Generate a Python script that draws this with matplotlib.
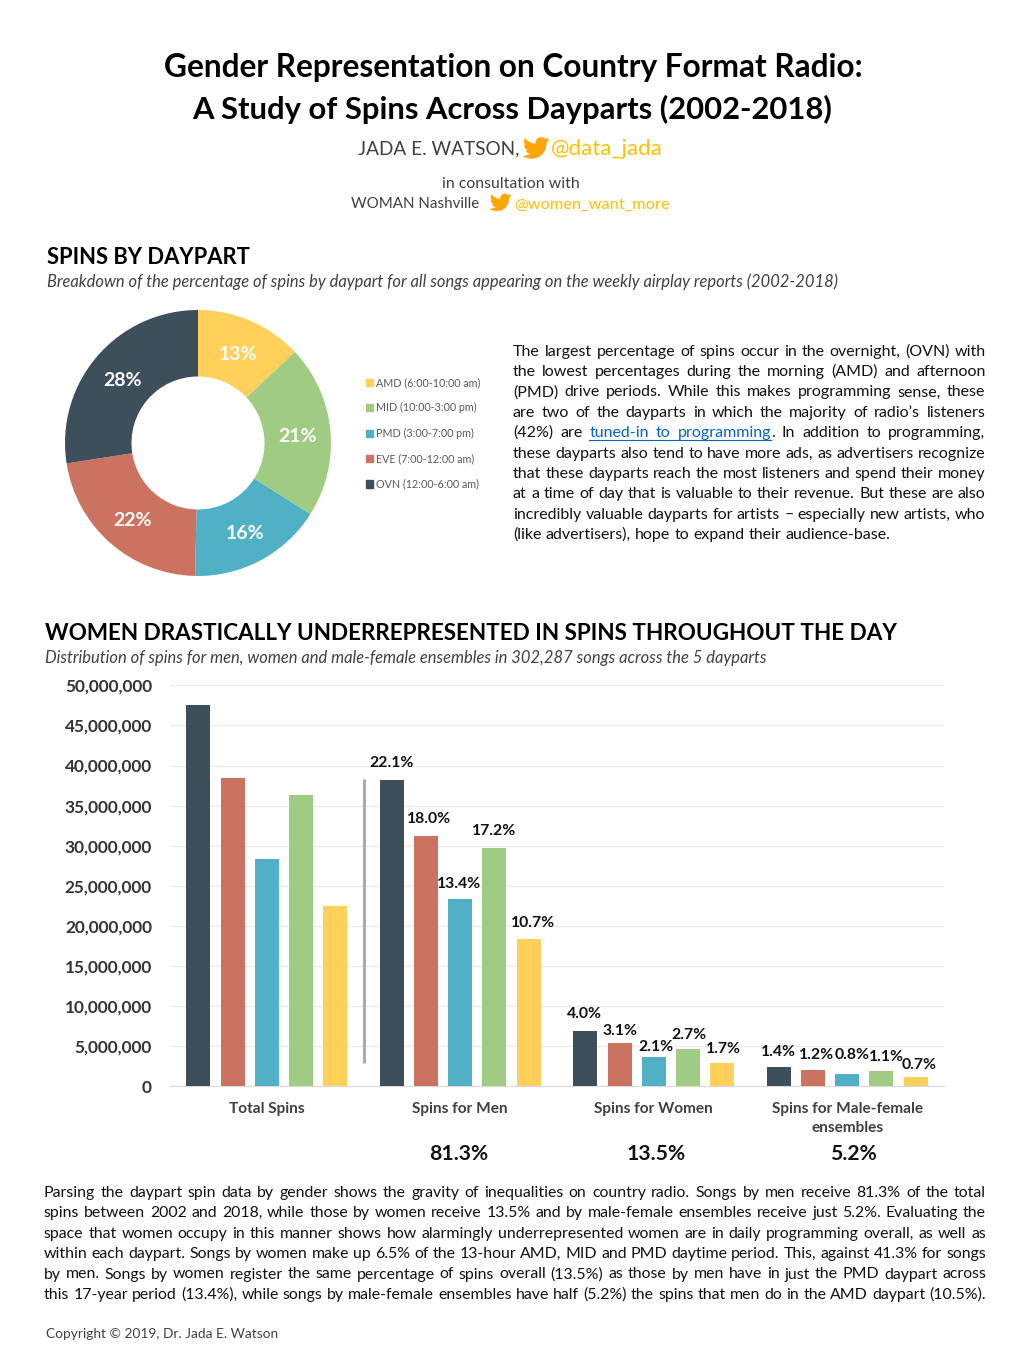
"""Country radio dayparts one-page sheet: donut, grouped bars and the surrounding copy."""

import matplotlib

matplotlib.use("Agg")
import matplotlib.pyplot as plt
from matplotlib.patches import PathPatch, Patch
from matplotlib.path import Path

plt.rcParams["font.family"] = ["Lato", "DejaVu Sans"]

# bar order, the donut runs the other way round
dayparts = ["OVN", "EVE", "PMD", "MID", "AMD"]
groups = ["Total Spins", "Spins for Men", "Spins for Women", "Spins for Male-female\nensembles"]
total_spins = [47.5e6, 38.4e6, 28.3e6, 36.3e6, 22.5e6]
men_spins = [38.2e6, 31.2e6, 23.3e6, 29.7e6, 18.4e6]
women_spins = [6.85e6, 5.35e6, 3.7e6, 4.7e6, 2.95e6]
ensemble_spins = [2.45e6, 2.0e6, 1.5e6, 1.95e6, 1.16e6]
men_labels = ["22.1%", "18.0%", "13.4%", "17.2%", "10.7%"]
women_labels = ["4.0%", "3.1%", "2.1%", "2.7%", "1.7%"]
ensemble_labels = ["1.4%", "1.2%", "0.8%", "1.1%", "0.7%"]
group_shares = ["81.3%", "13.5%", "5.2%"]
donut_labels = ["13%", "21%", "16%", "22%", "28%"]
legend_labels = [
    "AMD (6:00-10:00 am)",
    "MID (10:00-3:00 pm)",
    "PMD (3:00-7:00 pm)",
    "EVE (7:00-12:00 am)",
    "OVN (12:00-6:00 am)",
]
y_ticks = [0, 5e6, 10e6, 15e6, 20e6, 25e6, 30e6, 35e6, 40e6, 45e6, 50e6]

intro_lines = [
    "The largest percentage of spins occur in the overnight, (OVN) with",
    "the lowest percentages during the morning (AMD) and afternoon",
    "(PMD) drive periods. While this makes programming sense, these",
    "are two of the dayparts in which the majority of radio’s listeners",
    "(42%) are ^tuned-in ^to ^programming|. In addition to programming,",
    "these dayparts also tend to have more ads, as advertisers recognize",
    "that these dayparts reach the most listeners and spend their money",
    "at a time of day that is valuable to their revenue. But these are also",
    "incredibly valuable dayparts for artists – especially new artists, who",
    "(like advertisers), hope to expand their audience-base.",
]
closing_lines = [
    "Parsing the daypart spin data by gender shows the gravity of inequalities on country radio. Songs by men receive 81.3% of the total",
    "spins between 2002 and 2018, while those by women receive 13.5% and by male-female ensembles receive just 5.2%. Evaluating the",
    "space that women occupy in this manner shows how alarmingly underrepresented women are in daily programming overall, as well as",
    "within each daypart. Songs by women make up 6.5% of the 13-hour AMD, MID and PMD daytime period. This, against 41.3% for songs",
    "by men. Songs by women register the same percentage of spins overall (13.5%) as those by men have in just the PMD daypart across",
    "this 17-year period (13.4%), while songs by male-female ensembles have half (5.2%) the spins that men do in the AMD daypart (10.5%).",
]

# styles
W, H = 1020, 1360
colors = {"OVN": "#3C4F5B", "EVE": "#CB7360", "PMD": "#50B1C6", "MID": "#A0CB82", "AMD": "#FFD05A"}
HANDLE = "#FFC000"
BIRD = "#FFA50A"
GREY = "#404040"
SLOT = 0.1767
BAR_W = 0.124
# nudges of the percent labels from the bar centre and top, in pixels
men_nudge = [(0, 17), (3, 17), (-1, 15), (0, 17), (4, 16)]
women_nudge = [(-1, 17), (0, 12), (2, 10), (1, 14), (1, 14)]
ensemble_nudge = [(0, 15), (3, 15), (5, 19), (5, 14), (3, 12)]

BIRD_PTS = [
    (23.95, 4.57), (21.13, 5.35), (22.5, 4.4), (23.29, 2.62), (21.8, 3.3), (20.16, 3.81),
    (18.7, 2.6), (16.6, 2.0), (14.3, 2.7), (12.5, 4.5), (11.8, 6.5), (11.78, 8.29),
    (8.2, 7.6), (4.5, 5.8), (1.64, 3.16), (0.97, 5.64), (1.3, 7.8), (3.16, 9.73),
    (0.93, 9.12), (1.9, 12.0), (4.88, 13.99), (2.67, 14.07), (4.0, 16.2), (7.27, 17.49),
    (1.17, 19.6), (0.0, 19.53), (3.5, 21.1), (7.56, 21.74), (13.0, 21.0), (17.5, 18.0),
    (20.5, 13.5), (21.56, 7.75), (21.54, 7.12), (24.0, 4.59),
]


def px_axes(fig, x0, y0, x1, y1, **kwargs):
    return fig.add_axes([x0 / W, 1 - y1 / H, (x1 - x0) / W, (y1 - y0) / H], **kwargs)


def fit_text(page, renderer, s, x0, x1, y, **kwargs):
    t = page.text(x0, y, s, va="baseline", ha="left", fontsize=12, **kwargs)
    t.set_fontsize(12 * (x1 - x0) / t.get_window_extent(renderer).width)
    return t


def word_width(page, renderer, s, size):
    t = page.text(0, 0, s, fontsize=size)
    width = t.get_window_extent(renderer).width
    t.remove()
    return width


def justified(page, renderer, lines, x0, x1, first, step, color="#111111"):
    clean = [line.replace("^", "").replace("|", "") for line in lines]
    widest = max(word_width(page, renderer, line, 12) for line in clean)
    size = 12 * (x1 - x0) / widest
    space = word_width(page, renderer, "a a", size) - word_width(page, renderer, "aa", size)
    for i, line in enumerate(lines):
        words = line.split()
        widths = [word_width(page, renderer, w.replace("^", "").replace("|", ""), size) for w in words]
        gap = space
        if i < len(lines) - 1:
            gap = (x1 - x0 - sum(widths)) / (len(words) - 1)
        x = x0
        y = first + i * step
        link_start, link_end = None, None
        for word, width in zip(words, widths):
            head, _, tail = word.partition("|")
            is_link = head.startswith("^")
            head = head.lstrip("^")
            page.text(x, y, head, fontsize=size, color="#0563C1" if is_link else color, va="baseline")
            end = x + word_width(page, renderer, head, size)
            if tail:
                page.text(end, y, tail, fontsize=size, color=color, va="baseline")
            if is_link:
                link_start = x if link_start is None else link_start
                link_end = end
            x += width + gap
        if link_start is not None:
            page.plot([link_start, link_end], [y + 2.5, y + 2.5], color="#0563C1", lw=0.8)


def bird(page, x0, y0, size):
    scale = size / 24
    pts = [(x0 + px * scale, y0 + py * scale) for px, py in BIRD_PTS]
    codes = [Path.MOVETO] + [Path.LINETO] * (len(pts) - 1)
    page.add_patch(PathPatch(Path(pts, codes), facecolor=BIRD, edgecolor=BIRD, lw=0.3))


fig = plt.figure(figsize=(W / 100, H / 100), dpi=100, facecolor="white")
renderer = fig.canvas.get_renderer()

# donut
ax_pie = px_axes(fig, 65, 310, 331, 576)
wedges, pie_texts = ax_pie.pie(
    total_spins[::-1],
    labels=donut_labels,
    colors=[colors[d] for d in dayparts[::-1]],
    startangle=90,
    counterclock=False,
    radius=1.0,
    labeldistance=0.75,
    wedgeprops={"width": 0.5, "linewidth": 0},
)
ax_pie.set_xlim(-1, 1)
ax_pie.set_ylim(-1, 1)
for t in pie_texts:
    t.set(color="white", fontweight="bold", fontsize=14, ha="center", va="center")
    t.set_y(t.get_position()[1] - 0.02)
fig.legend(
    handles=[Patch(color=colors[d]) for d in dayparts[::-1]],
    labels=legend_labels,
    loc="upper left",
    bbox_to_anchor=(366 / W, 1 - 377 / H),
    borderaxespad=0,
    borderpad=0,
    frameon=False,
    fontsize=7.75,
    handlelength=0.65,
    handleheight=0.65,
    handletextpad=0.3,
    labelspacing=1.34,
    labelcolor="#595959",
)

# grouped bars
ax = px_axes(fig, 170, 685.3, 944, 1086.3)
series = [total_spins, men_spins, women_spins, ensemble_spins]
nudges = [None, men_nudge, women_nudge, ensemble_nudge]
labels = [None, men_labels, women_labels, ensemble_labels]
for g, values in enumerate(series):
    xs = [g + (i - 2) * SLOT for i in range(len(values))]
    bars = ax.bar(xs, values, width=BAR_W, color=[colors[d] for d in dayparts], zorder=3)
    if labels[g] is None:
        continue
    for bar, text, (dx, dy) in zip(bars, labels[g], nudges[g]):
        ax.annotate(
            text,
            (bar.get_x() + bar.get_width() / 2, bar.get_height()),
            xytext=(dx, dy),
            textcoords="offset pixels",
            ha="center",
            va="center",
            fontsize=11.3,
            fontweight="bold",
            color="#111111",
            zorder=5,
        )
ax.set_xlim(-0.5, 3.5)
ax.set_ylim(0, 50e6)
ax.set_yticks(y_ticks)
ax.set_yticklabels([f"{int(v):,}" for v in y_ticks], fontsize=12.4, fontweight="bold", color="#333333", va="center_baseline")
ax.set_xticks(range(len(groups)))
ax.set_xticklabels(groups, fontsize=11.1, fontweight="bold", color=GREY, linespacing=1.45)
ax.tick_params(axis="both", length=0)
ax.tick_params(axis="y", pad=13)
ax.tick_params(axis="x", pad=11)
ax.grid(axis="y", color="#EDEDED", lw=1, zorder=0)
for side in ("top", "left", "right"):
    ax.spines[side].set_visible(False)
ax.spines["bottom"].set_color("#D9D9D9")

# page layer for all the copy, pixel coordinates from the top left
page = fig.add_axes([0, 0, 1, 1], facecolor="none")
page.set_xlim(0, W)
page.set_ylim(H, 0)
page.axis("off")

fit_text(page, renderer, "Gender Representation on Country Format Radio:", 164, 862, 76.5, fontweight="bold", color="black")
fit_text(page, renderer, "A Study of Spins Across Dayparts (2002-2018)", 192, 828, 119, fontweight="bold", color="black")
fit_text(page, renderer, "JADA E. WATSON,", 358, 519, 154.5, color=GREY)
fit_text(page, renderer, "@data_jada", 551, 662, 155, color=HANDLE)
bird(page, 523, 135, 26)
fit_text(page, renderer, "in consultation with", 442, 579, 188, color=GREY)
fit_text(page, renderer, "WOMAN Nashville", 351, 479, 208.5, color=GREY)
fit_text(page, renderer, "@women_want_more", 514, 669, 208.5, color=HANDLE)
bird(page, 490, 192, 21)

fit_text(page, renderer, "SPINS BY DAYPART", 47, 250, 264, fontweight="bold", color="black")
fit_text(
    page, renderer,
    "Breakdown of the percentage of spins by daypart for all songs appearing on the weekly airplay reports (2002-2018)",
    47, 834, 287, style="italic", color=GREY,
)
justified(page, renderer, intro_lines, 513, 985.5, 355.7, 20.37)

fit_text(page, renderer, "WOMEN DRASTICALLY UNDERREPRESENTED IN SPINS THROUGHOUT THE DAY", 45, 898, 640, fontweight="bold", color="black")
fit_text(
    page, renderer,
    "Distribution of spins for men, women and male-female ensembles in 302,287 songs across the 5 dayparts",
    45, 764, 663, style="italic", color=GREY,
)

# divider between the total and the gender groups
page.plot([364, 364], [779, 1063], color="#ABABAB", lw=2.2, solid_capstyle="butt")

for share, x in zip(group_shares, [459, 656, 853]):
    page.text(x, 1160, share, ha="center", va="baseline", fontsize=15.2, fontweight="bold", color="#111111")

justified(page, renderer, closing_lines, 44, 986, 1196.7, 20.45)
fit_text(page, renderer, "Copyright © 2019, Dr. Jada E. Watson", 46, 276, 1338, color=GREY)

fig.savefig("out.png", dpi=100)
plt.close(fig)
